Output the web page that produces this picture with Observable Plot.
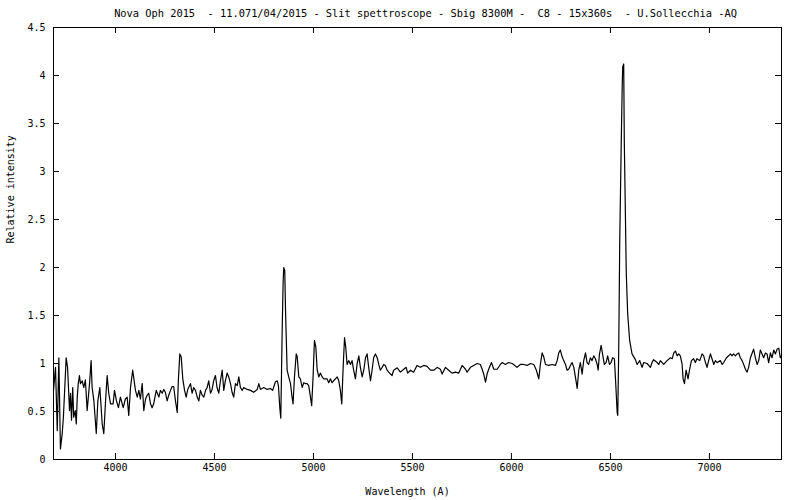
<!DOCTYPE html>
<html>
<head>
<meta charset="utf-8">
<script src="https://cdn.jsdelivr.net/npm/d3@7"></script>
<script src="https://cdn.jsdelivr.net/npm/@observablehq/plot@0.6"></script>
<style>
  html, body { margin: 0; padding: 0; background: #fff; }
</style>
</head>
<body>
<div id="chart"></div>
<script>
const title = "Nova Oph 2015  - 11.071/04/2015 - Slit spettroscope - Sbig 8300M -  C8 - 15x360s  - U.Sollecchia -AQ";
const xLabel = "Wavelength (A)";
const yLabel = "Relative intensity";
const xTicks = [4000, 4500, 5000, 5500, 6000, 6500, 7000];
const yTicks = [0, 0.5, 1, 1.5, 2, 2.5, 3, 3.5, 4, 4.5];

const wavelength = [
  3687,3697,3706,3714,3722,3731,3737,3751,3758,3768,3773,3778,3784,3789,3797,3802,3807,3812,3818,3823,
  3832,3840,3848,3857,3869,3877,3882,3891,3903,3911,3921,3933,3941,3950,3958,3966,3975,3988,3995,4005,
  4015,4025,4039,4050,4059,4067,4076,4087,4101,4110,4118,4126,4135,4143,4152,4160,4168,4177,4185,4193,
  4206,4219,4227,4236,4244,4252,4261,4269,4278,4286,4294,4303,4312,4318,4325,4332,4340,4349,4357,4365,
  4379,4387,4395,4404,4413,4421,4429,4438,4446,4455,4463,4471,4480,4488,4496,4505,4513,4522,4530,4539,
  4547,4555,4564,4572,4581,4589,4597,4606,4615,4623,4631,4640,4648,4665,4682,4698,4716,4724,4732,4749,
  4766,4783,4794,4808,4817,4823,4830,4835,4842,4847,4850,4855,4859,4867,4875,4884,4892,4897,4904,4913,
  4918,4926,4934,4943,4951,4960,4968,4976,4985,4991,4998,5005,5012,5019,5027,5035,5044,5052,5069,5077,
  5086,5094,5102,5111,5120,5128,5136,5143,5150,5157,5163,5170,5178,5187,5195,5203,5212,5220,5229,5237,
  5246,5254,5263,5271,5279,5288,5296,5304,5313,5322,5330,5338,5347,5355,5363,5372,5380,5389,5397,5405,
  5423,5439,5456,5468,5476,5490,5506,5523,5540,5557,5574,5591,5608,5625,5641,5650,5667,5683,5700,5717,
  5734,5751,5768,5776,5793,5809,5827,5843,5852,5860,5869,5877,5885,5899,5911,5928,5944,5953,5970,5986,
  6003,6011,6028,6045,6062,6079,6096,6113,6126,6138,6146,6155,6163,6172,6188,6205,6222,6231,6239,6247,
  6256,6264,6273,6281,6289,6298,6306,6315,6323,6332,6340,6348,6357,6365,6374,6382,6390,6399,6407,6416,
  6424,6433,6438,6444,6453,6461,6469,6478,6486,6495,6503,6511,6520,6526,6534,6537,6542,6547,6554,6559,
  6562,6567,6570,6575,6580,6587,6597,6609,6626,6635,6648,6651,6660,6668,6685,6702,6710,6718,6736,6744,
  6752,6769,6786,6803,6812,6820,6828,6837,6845,6853,6862,6867,6874,6882,6892,6900,6909,6920,6929,6937,
  6951,6963,6971,6980,6988,6996,7005,7013,7022,7030,7039,7055,7064,7072,7086,7097,7106,7114,7122,7131,
  7140,7148,7156,7165,7173,7182,7190,7198,7207,7216,7223,7232,7241,7249,7257,7266,7274,7283,7291,7299,
  7308,7316,7325,7333,7342,7350,7358,7363
];

const intensity = [
  0.72,0.96,0.30,1.06,0.11,0.27,0.44,1.06,0.96,0.51,0.69,0.41,0.75,0.44,0.51,0.37,0.65,0.79,0.875,0.79,
  0.82,0.75,0.83,0.51,0.79,1.03,0.75,0.61,0.27,0.61,0.75,0.37,0.27,0.61,0.875,0.69,0.58,0.58,0.72,0.61,
  0.54,0.65,0.54,0.63,0.65,0.46,0.75,0.93,0.72,0.65,0.72,0.63,0.79,0.51,0.63,0.67,0.69,0.58,0.54,0.58,
  0.72,0.65,0.72,0.69,0.73,0.70,0.61,0.67,0.72,0.76,0.76,0.61,0.49,0.84,1.10,1.07,0.84,0.72,0.65,0.73,
  0.79,0.69,0.75,0.72,0.65,0.61,0.72,0.67,0.65,0.72,0.75,0.82,0.69,0.73,0.82,0.875,0.75,0.69,0.82,0.93,
  0.72,0.82,0.90,0.86,0.79,0.70,0.65,0.79,0.77,0.86,0.75,0.72,0.75,0.73,0.72,0.70,0.73,0.79,0.73,0.75,
  0.73,0.74,0.72,0.81,0.82,0.77,0.54,0.43,1.34,1.86,2.00,1.97,1.55,0.93,0.86,0.79,0.65,0.58,0.86,1.10,
  1.07,0.86,0.84,0.75,0.80,0.79,0.79,0.77,0.65,0.56,0.86,1.24,1.17,0.93,0.86,0.90,0.86,0.84,0.84,0.80,
  0.84,0.80,0.82,0.84,0.86,0.82,0.72,0.58,0.96,1.27,1.17,0.99,1.03,0.99,1.03,0.93,0.84,0.99,1.08,0.96,
  0.86,0.93,1.06,1.10,0.96,0.82,0.93,1.06,1.10,1.06,0.99,0.93,0.96,0.99,0.98,0.93,0.91,0.89,0.875,0.93,
  0.955,0.91,0.94,0.96,0.90,0.93,0.91,0.98,0.96,0.98,0.97,0.93,0.93,0.96,0.94,0.89,0.96,0.93,0.90,0.91,
  0.90,0.98,0.94,0.91,0.96,0.98,1.00,0.99,0.94,0.89,0.805,0.89,0.94,1.01,0.94,0.94,0.99,1.01,0.99,1.01,
  1.00,0.99,0.96,0.99,0.99,0.98,1.00,0.99,0.93,0.84,0.99,1.11,1.07,0.99,0.98,0.99,0.98,1.03,1.11,1.14,
  1.07,1.03,0.99,0.93,0.94,0.98,1.01,0.96,0.86,0.74,0.93,1.01,0.89,1.03,1.11,1.01,0.99,1.06,1.03,1.08,
  1.05,0.99,0.93,1.09,1.19,1.09,0.99,1.01,1.08,0.99,1.01,1.06,1.05,0.82,0.49,0.46,1.17,2.28,3.22,3.84,
  4.09,4.12,3.32,2.63,1.94,1.52,1.24,1.10,1.04,0.99,1.03,1.01,0.96,1.01,1.00,0.96,1.01,1.04,1.01,0.99,
  1.03,0.99,1.03,1.06,1.05,1.11,1.13,1.08,1.10,1.08,0.99,0.84,0.79,0.93,0.84,0.94,1.03,1.05,1.01,1.05,
  1.03,1.10,1.08,1.01,0.96,1.03,1.10,1.05,0.99,1.03,1.01,1.03,0.99,1.01,1.06,1.08,1.10,1.08,1.10,1.08,
  1.10,1.11,1.06,1.03,0.99,0.94,0.91,0.96,1.06,1.11,1.15,1.06,0.99,1.03,1.14,1.10,1.06,1.11,1.10,1.01,
  1.11,1.06,1.14,1.10,1.15,1.16,1.06,1.08
];

const spectrum = wavelength.map((w, i) => ({w, v: intensity[i]}));

const W = 800, H = 500;
const mL = 53, mR = 19, mT = 27, mB = 41;
const innerW = W - mL - mR, innerH = H - mT - mB;
const tick = 6;

const chart = Plot.plot({
  width: W,
  height: H,
  marginLeft: mL,
  marginRight: mR,
  marginTop: mT,
  marginBottom: mB,
  style: {fontFamily: "DejaVu Sans Mono, monospace", fontSize: "10px", background: "#fff", color: "#000"},
  x: {domain: [3687, 7364], ticks: xTicks},
  y: {domain: [0, 4.5], ticks: yTicks},
  marks: [
    Plot.ruleX(xTicks, {x: d => d, insetTop: innerH - tick, stroke: "#000"}),
    Plot.ruleX(xTicks, {x: d => d, insetBottom: innerH - tick, stroke: "#000"}),
    Plot.ruleY(yTicks, {y: d => d, insetRight: innerW - tick, stroke: "#000"}),
    Plot.ruleY(yTicks, {y: d => d, insetLeft: innerW - tick, stroke: "#000"}),
    Plot.axisX({ticks: xTicks, tickSize: 0, tickPadding: 4, tickFormat: d => String(d), label: null, fill: "#000"}),
    Plot.axisY({ticks: yTicks, tickSize: 0, tickPadding: 8, tickFormat: d => String(d), label: null, fill: "#000"}),
    Plot.line(spectrum, {x: "w", y: "v", stroke: "#000", strokeWidth: 1.2}),
    Plot.frame({stroke: "#000", strokeWidth: 1}),
    Plot.text([title], {text: d => d, frameAnchor: "top", dy: -14, dx: 8, fontSize: 10.35, lineAnchor: "middle", fill: "#000"}),
    Plot.text([xLabel], {text: d => d, frameAnchor: "bottom", dy: 32, dx: -10, lineAnchor: "middle", fill: "#000"}),
    Plot.text([yLabel], {text: d => d, frameAnchor: "left", dx: -43, rotate: -90, lineAnchor: "middle", fill: "#000"})
  ]
});
document.getElementById("chart").appendChild(chart);
</script>
</body>
</html>
